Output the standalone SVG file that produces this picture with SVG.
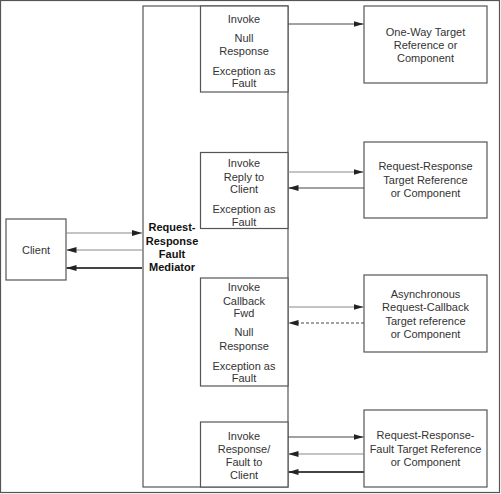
<svg xmlns="http://www.w3.org/2000/svg" width="501" height="494" viewBox="0 0 501 494">
<defs>
<style>
.box{fill:#fff;stroke:#555;stroke-width:1.2}
.t{font-family:"Liberation Sans",Arial,sans-serif;font-size:11px;fill:#333;text-anchor:middle}
.b{font-weight:bold;fill:#111}
.c{stroke:#444;stroke-width:1;fill:none}
.g{stroke:#888;stroke-width:1;fill:none}
.k{stroke:#444;stroke-width:2.2;fill:none}
.d{stroke:#444;stroke-width:1;fill:none;stroke-dasharray:3,2}
</style>
<marker id="ah" viewBox="0 0 10 6" refX="10" refY="3" markerWidth="10" markerHeight="6" markerUnits="userSpaceOnUse" orient="auto">
<path d="M0,0 L10,3 L0,6 Z" fill="#222"/>
</marker>
</defs>
<rect x="0.5" y="0.5" width="499" height="492" fill="#fff" stroke="#555" stroke-width="1.2"/>
<g id="client">
<rect class="box" x="6" y="219" width="60" height="61"/>
<text class="t" x="36" y="254">Client</text>
</g>
<g id="mediator">
<rect class="box" x="143" y="6" width="145" height="481"/>
<text class="t b" x="172" y="231">Request-</text>
<text class="t b" x="172" y="244.5">Response</text>
<text class="t b" x="172" y="258">Fault</text>
<text class="t b" x="172" y="271">Mediator</text>
</g>
<g id="sub1">
<rect class="box" x="200.5" y="6" width="87.5" height="86"/>
<text class="t" x="244" y="23">Invoke</text>
<text class="t" x="244" y="42">Null</text>
<text class="t" x="244" y="55">Response</text>
<text class="t" x="244" y="75">Exception as</text>
<text class="t" x="244" y="87">Fault</text>
</g>
<g id="sub2">
<rect class="box" x="200.5" y="152.5" width="87.5" height="76"/>
<text class="t" x="244" y="167">Invoke</text>
<text class="t" x="244" y="181">Reply to</text>
<text class="t" x="244" y="193">Client</text>
<text class="t" x="244" y="213">Exception as</text>
<text class="t" x="244" y="226">Fault</text>
</g>
<g id="sub3">
<rect class="box" x="200.5" y="278" width="87.5" height="108"/>
<text class="t" x="244" y="291">Invoke</text>
<text class="t" x="244" y="305">Callback</text>
<text class="t" x="244" y="317">Fwd</text>
<text class="t" x="244" y="336">Null</text>
<text class="t" x="244" y="350">Response</text>
<text class="t" x="244" y="370">Exception as</text>
<text class="t" x="244" y="382">Fault</text>
</g>
<g id="sub4">
<rect class="box" x="200.5" y="422" width="87.5" height="65"/>
<text class="t" x="244" y="440">Invoke</text>
<text class="t" x="244" y="453">Response/</text>
<text class="t" x="244" y="466">Fault to</text>
<text class="t" x="244" y="479">Client</text>
</g>
<g id="target1">
<rect class="box" x="364" y="6" width="123" height="77"/>
<text class="t" x="425.5" y="36">One-Way Target</text>
<text class="t" x="425.5" y="49">Reference or</text>
<text class="t" x="425.5" y="62">Component</text>
</g>
<g id="target2">
<rect class="box" x="364" y="142" width="123" height="76"/>
<text class="t" x="425.5" y="170">Request-Response</text>
<text class="t" x="425.5" y="184">Target Reference</text>
<text class="t" x="425.5" y="197">or Component</text>
</g>
<g id="target3">
<rect class="box" x="364" y="275" width="123" height="77"/>
<text class="t" x="425.5" y="298">Asynchronous</text>
<text class="t" x="425.5" y="311">Request-Callback</text>
<text class="t" x="425.5" y="325">Target reference</text>
<text class="t" x="425.5" y="338">or Component</text>
</g>
<g id="target4">
<rect class="box" x="364" y="410" width="123" height="77"/>
<text class="t" x="425.5" y="439">Request-Response-</text>
<text class="t" x="425.5" y="453">Fault Target Reference</text>
<text class="t" x="425.5" y="466">or Component</text>
</g>
<g id="connectors">
<line class="g" x1="66" y1="233" x2="142" y2="233" marker-end="url(#ah)"/>
<line class="g" x1="142" y1="250" x2="66.5" y2="250" marker-end="url(#ah)"/>
<line class="k" x1="142" y1="268" x2="66.5" y2="268" marker-end="url(#ah)"/>
<line class="c" x1="288" y1="24" x2="363.5" y2="24" marker-end="url(#ah)"/>
<line class="g" x1="288" y1="172" x2="363.5" y2="172" marker-end="url(#ah)"/>
<line class="c" x1="364" y1="188" x2="288.5" y2="188" marker-end="url(#ah)"/>
<line class="g" x1="288" y1="307" x2="363.5" y2="307" marker-end="url(#ah)"/>
<line class="d" x1="364" y1="323" x2="288.5" y2="323" marker-end="url(#ah)"/>
<line class="c" x1="288" y1="437" x2="363.5" y2="437" marker-end="url(#ah)"/>
<line class="g" x1="364" y1="454" x2="288.5" y2="454" marker-end="url(#ah)"/>
<line class="k" x1="364" y1="472" x2="288.5" y2="472" marker-end="url(#ah)"/>
</g>
</svg>
